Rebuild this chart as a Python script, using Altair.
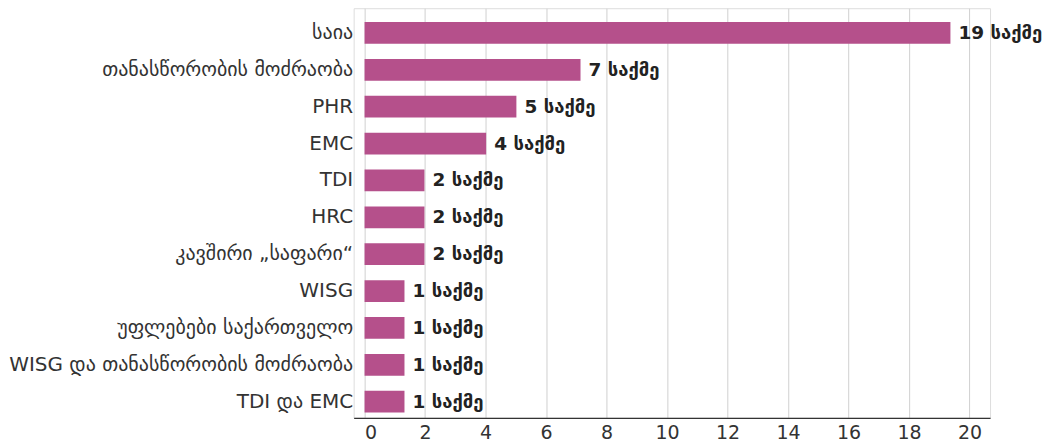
import altair as alt
import pandas as pd

categories = ["საია", "თანასწორობის მოძრაობა", "PHR", "EMC", "TDI", "HRC",
              "კავშირი „საფარი“", "WISG", "უფლებები საქართველო",
              "WISG და თანასწორობის მოძრაობა", "TDI და EMC"]
counts = [19, 7, 5, 4, 2, 2, 2, 1, 1, 1, 1]
bar_lengths = [19.37, 7.14, 5.02, 4.02, 1.98, 1.98, 1.98, 1.32, 1.32, 1.32, 1.32]
tick_values = [0, 2, 4, 6, 8, 10, 12, 14, 16, 18, 20]

df = pd.DataFrame({
    "cat": categories,
    "len": bar_lengths,
    "label": [f"{c} საქმე" for c in counts],
})

FONT = "DejaVu Sans"

y = alt.Y("cat:N", sort=categories, title=None,
          scale=alt.Scale(paddingInner=0.412, paddingOuter=0.26, align=0.725),
          axis=alt.Axis(domain=False, ticks=False, grid=False, labelFont=FONT,
                        labelFontSize=20, labelColor="#333333", labelPadding=1,
                        labelLimit=500))
x = alt.X("len:Q", title=None,
          scale=alt.Scale(domain=[-0.36, 20.68], nice=False, zero=False),
          axis=alt.Axis(values=tick_values, grid=True, gridColor="#d0d0d0", gridWidth=1,
                        domain=True, domainColor="#333333", domainWidth=1.2,
                        ticks=False, labelFont=FONT, labelFontSize=19,
                        labelColor="#333333", labelPadding=6, labelFlush=15))

bars = alt.Chart(df).mark_bar(color="#b5508b").encode(
    y=y, x=x, x2=alt.datum(0)
)
text = alt.Chart(df).mark_text(align="left", baseline="middle", dx=8, font=FONT,
                               fontSize=18.5, fontWeight="bold", color="#222222").encode(
    y=alt.Y("cat:N", sort=categories), x=alt.X("len:Q"), text="label:N"
)

chart = (bars + text).properties(
    width=637, height=410,
    padding={"left": 0, "top": 0, "right": 0, "bottom": 0},
).configure_view(stroke=None).configure(background="white")

chart.save("out.html", embed_options={"renderer": "svg", "actions": False})
